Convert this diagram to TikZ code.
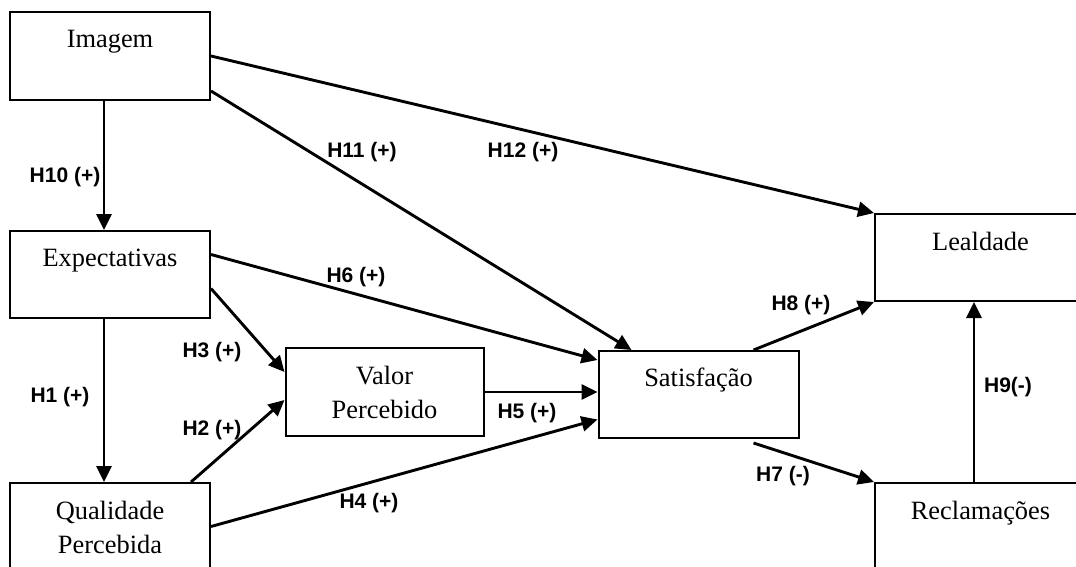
\documentclass[tikz,border=0pt]{standalone}
\usepackage{fontspec}
\setmainfont{Liberation Serif}
\newfontfamily\hypfont{Liberation Sans}
\usetikzlibrary{arrows.meta}

\tikzset{
  constructo/.style={draw, line width=1pt, minimum width=100pt, minimum height=43.5pt, inner sep=0pt},
  nome/.style={anchor=north, align=center, inner sep=0pt, font=\fontsize{13.2}{17}\selectfont},
  hipotese/.style={font=\hypfont\bfseries\fontsize{10.5}{12}\selectfont, inner sep=0pt},
  seta/.style={line width=1.45pt, -{Triangle[length=8pt,width=7.5pt]}}
}

\begin{document}
\begin{tikzpicture}[x=0.5pt, y=-0.5pt]
    \useasboundingbox (0,0) rectangle (1076,567);
    \clip (0,0) rectangle (1076,567);

    % Construtos
    \node[constructo, minimum height=44pt] (imagem) at (110,56) {};
    \node[constructo] (expect) at (110,274.5) {};
    \node[constructo] (qualid) at (110,526.5) {};
    \node[constructo, minimum width=99pt, minimum height=44pt] (valor) at (384.5,392) {};
    \node[constructo] (satisf) at (698.5,394.5) {};
    \node[constructo, minimum width=105.5pt] (lealdade) at (980.5,257.5) {};
    \node[constructo, minimum width=105.5pt] (reclam) at (980.5,526.5) {};

    % Nomes dos construtos
    \node[nome] (imagemtxt) at ([yshift=-9.5pt]imagem.north) {Imagem};
    \node[nome] (expecttxt) at ([yshift=-9.5pt]expect.north) {Expectativas};
    \node[nome] (qualidtxt) at ([yshift=-9.5pt]qualid.north) {Qualidade\\Percebida};
    \node[nome] (valortxt) at ([yshift=-9.5pt]valor.north) {Valor\\Percebido};
    \node[nome] (satisftxt) at ([yshift=-9pt]satisf.north) {Satisfação};
    \node[nome] (lealdadetxt) at ([yshift=-9.5pt]lealdade.north) {Lealdade};
    \node[nome] (reclamtxt) at ([yshift=-9.5pt]reclam.north) {Reclamações};

    % Relacoes
    \draw[seta] ([xshift=-3pt]imagem.south) -- ([xshift=-3pt]expect.north);
    \draw[seta] ([xshift=-3pt]expect.south) -- ([xshift=-3pt]qualid.north);
    \draw[seta] (imagem.east) -- (lealdade.north west);
    \draw[seta] ([yshift=5pt]imagem.south east) -- ([xshift=17pt]satisf.north west);
    \draw[seta] ([yshift=10pt]expect.east) -- ([yshift=-5pt]satisf.north west);
    \draw[seta] ([yshift=-7pt]expect.east) -- ([yshift=10pt]valor.west);
    \draw[seta] ([xshift=-10pt]qualid.north east) -- ([yshift=-4pt]valor.west);
    \draw[seta] (valor.east) -- (valor.east -| satisf.west);
    \draw[seta] (qualid.east) -- ([yshift=-12.5pt]satisf.west);
    \draw[seta] ([xshift=-23pt]satisf.north east) -- (lealdade.south west);
    \draw[seta] ([xshift=-23pt,yshift=-2pt]satisf.south east) -- (reclam.north west);
    \draw[seta] ([xshift=-3.25pt]reclam.north) -- ([xshift=-3.25pt]lealdade.south);

    % Hipoteses
    \node[hipotese] (h10) at (65,177) {H10 (+)};
    \node[hipotese] (h11) at (362,152) {H11 (+)};
    \node[hipotese] (h12) at (523,152) {H12 (+)};
    \node[hipotese] (h6) at (356,277) {H6 (+)};
    \node[hipotese] (h3) at (212,352) {H3 (+)};
    \node[hipotese] (h1) at (60,397) {H1 (+)};
    \node[hipotese] (h2) at (212,430) {H2 (+)};
    \node[hipotese] (h5) at (527,413) {H5 (+)};
    \node[hipotese] (h4) at (369,503) {H4 (+)};
    \node[hipotese] (h8) at (801,305) {H8 (+)};
    \node[hipotese] (h9) at (1008,387) {H9(-)};
    \node[hipotese] (h7) at (783,476) {H7 (-)};
\end{tikzpicture}
\end{document}
